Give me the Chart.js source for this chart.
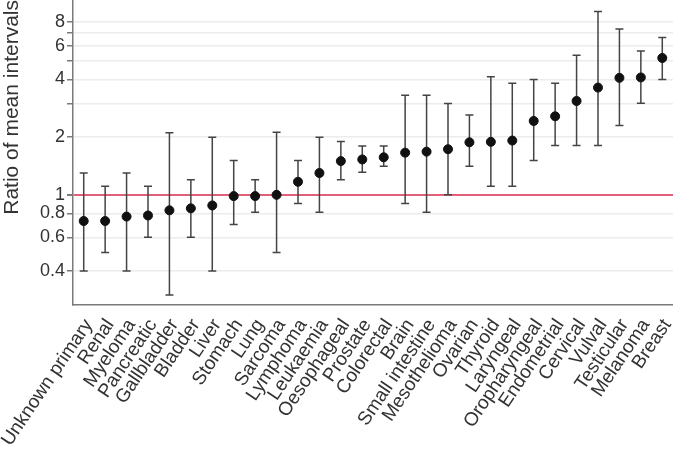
<!DOCTYPE html>
<html>
<head>
<meta charset="utf-8">
<script src="https://cdn.jsdelivr.net/npm/chart.js@4"></script>
<style>
  html, body { margin: 0; padding: 0; background: #fff; }
  #wrap { width: 673px; height: 457px; position: relative; }
</style>
</head>
<body>
<div id="wrap"><canvas id="chart"></canvas></div>
<script>
const CANCERS = [
  'Unknown primary', 'Renal', 'Myeloma', 'Pancreatic', 'Gallbladder', 'Bladder', 'Liver',
  'Stomach', 'Lung', 'Sarcoma', 'Lymphoma', 'Leukaemia', 'Oesophageal', 'Prostate',
  'Colorectal', 'Brain', 'Small intestine', 'Mesothelioma', 'Ovarian', 'Thyroid',
  'Laryngeal', 'Oropharyngeal', 'Endometrial', 'Cervical', 'Vulval', 'Testicular',
  'Melanoma', 'Breast',
];
const RATIO = [
  0.73, 0.73, 0.77, 0.78, 0.83, 0.85, 0.88, 0.985, 0.985, 1.0, 1.17, 1.30, 1.50, 1.53,
  1.57, 1.66, 1.68, 1.73, 1.88, 1.89, 1.92, 2.43, 2.57, 3.09, 3.63, 4.08, 4.10, 5.18,
];
const LOWER = [
  0.40, 0.50, 0.40, 0.60, 0.30, 0.60, 0.40, 0.70, 0.81, 0.50, 0.90, 0.81, 1.20, 1.31,
  1.41, 0.90, 0.81, 1.00, 1.41, 1.11, 1.11, 1.51, 1.81, 1.81, 1.81, 2.30, 3.01, 4.00,
];
const UPPER = [
  1.30, 1.11, 1.30, 1.11, 2.11, 1.20, 2.00, 1.51, 1.20, 2.12, 1.51, 2.00, 1.90, 1.80,
  1.80, 3.31, 3.31, 3.00, 2.61, 4.13, 3.82, 4.00, 3.82, 5.36, 9.05, 7.35, 5.64, 6.62,
];
const Y_TICKS = [0.4, 0.6, 0.8, 1, 2, 3, 4, 5, 6, 7, 8];
const Y_LABELED = [0.4, 0.6, 0.8, 1, 2, 4, 6, 8];

const AXIS = '#7a7a7a';
const TEXT = '#333333';
const RED  = '#e0607a';
const FONT = 'Arial, "Liberation Sans", sans-serif';

// whiskers with caps, drawn under the points
const errorBars = {
  id: 'errorBars',
  beforeDatasetsDraw(chart) {
    const { ctx, scales: { x, y } } = chart;
    ctx.save();
    ctx.strokeStyle = '#444444';
    ctx.lineWidth = 1.5;
    LOWER.forEach((lo, i) => {
      const px = x.getPixelForValue(i);
      const yLo = y.getPixelForValue(lo);
      const yHi = y.getPixelForValue(UPPER[i]);
      ctx.beginPath();
      ctx.moveTo(px, yLo); ctx.lineTo(px, yHi);
      ctx.moveTo(px - 4, yLo); ctx.lineTo(px + 4, yLo);
      ctx.moveTo(px - 4, yHi); ctx.lineTo(px + 4, yHi);
      ctx.stroke();
    });
    ctx.restore();
  },
};

new Chart(document.getElementById('chart'), {
  type: 'line',
  data: {
    labels: CANCERS,
    datasets: [{
      data: RATIO,
      showLine: false,
      pointRadius: 4.5,
      pointBackgroundColor: '#111111',
      pointBorderColor: '#111111',
      pointBorderWidth: 1,
    }],
  },
  plugins: [errorBars],
  options: {
    responsive: true,
    maintainAspectRatio: false,
    animation: false,
    layout: { padding: 0, autoPadding: false },
    plugins: { legend: { display: false }, tooltip: { enabled: false } },
    scales: {
      x: {
        type: 'category',
        offset: true,
        grid: { display: false, drawTicks: true, tickLength: 7, tickColor: AXIS, offset: false },
        border: { color: AXIS, width: 1.5 },
        ticks: {
          color: TEXT,
          font: { family: FONT, size: 19 },
          minRotation: 56,
          maxRotation: 56,
          autoSkip: false,
          padding: 3,
          labelOffset: 5,
        },
        afterFit(scale) {
          scale.height = 152;
          scale.paddingLeft = 0;
          scale.paddingRight = 0;
        },
      },
      y: {
        type: 'logarithmic',
        min: 0.266,
        max: 10.4,
        afterBuildTicks(scale) { scale.ticks = Y_TICKS.map(v => ({ value: v })); },
        ticks: {
          color: TEXT,
          font: { family: FONT, size: 18 },
          padding: 2,
          callback: v => (Y_LABELED.includes(v) ? String(v) : ''),
        },
        grid: {
          color: ctx => (ctx.tick && ctx.tick.value === 1 ? RED : '#ececec'),
          lineWidth: ctx => (ctx.tick && ctx.tick.value === 1 ? 2 : 1.5),
          tickColor: AXIS,
          tickLength: 6,
        },
        border: { color: AXIS, width: 1.5 },
        title: {
          display: true,
          text: 'Ratio of mean intervals',
          color: TEXT,
          font: { family: FONT, size: 21 },
          align: 'end',
          padding: { top: 0, bottom: 1 },
        },
        afterFit(scale) {
          scale.width = 73;
          scale.paddingTop = 0;
          scale.paddingBottom = 0;
        },
      },
    },
  },
});
</script>
</body>
</html>
